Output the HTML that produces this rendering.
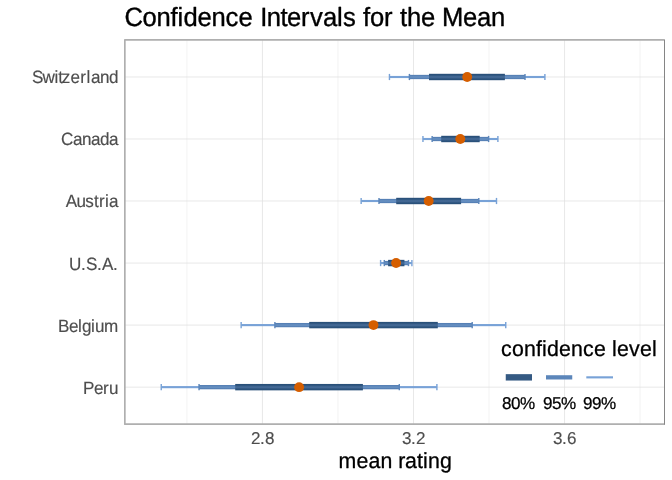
<!DOCTYPE html>
<html lang="en"><head><meta charset="utf-8"><title>Confidence Intervals for the Mean</title>
<style>html,body{margin:0;padding:0;background:#fff}body{width:672px;height:480px;overflow:hidden}svg{display:block}text{text-rendering:geometricPrecision;paint-order:stroke;stroke-linejoin:round;font-family:"Liberation Sans",Arial,Helvetica,sans-serif}</style>
</head><body>
<svg width="672" height="480" viewBox="0 0 672 480">
<rect width="672" height="480" fill="#fff"/>
<g stroke="#dedede" fill="none">
<line x1="186.93" y1="39.9" x2="186.93" y2="424.2" stroke-width="0.36"/>
<line x1="262.45" y1="39.9" x2="262.45" y2="424.2" stroke-width="0.71"/>
<line x1="337.97" y1="39.9" x2="337.97" y2="424.2" stroke-width="0.36"/>
<line x1="413.5" y1="39.9" x2="413.5" y2="424.2" stroke-width="0.71"/>
<line x1="489.02" y1="39.9" x2="489.02" y2="424.2" stroke-width="0.36"/>
<line x1="564.54" y1="39.9" x2="564.54" y2="424.2" stroke-width="0.71"/>
<line x1="640.06" y1="39.9" x2="640.06" y2="424.2" stroke-width="0.36"/>
<line x1="124.67" y1="77.00" x2="664.67" y2="77.00" stroke-width="0.71"/>
<line x1="124.67" y1="139.00" x2="664.67" y2="139.00" stroke-width="0.71"/>
<line x1="124.67" y1="201.00" x2="664.67" y2="201.00" stroke-width="0.71"/>
<line x1="124.67" y1="263.05" x2="664.67" y2="263.05" stroke-width="0.71"/>
<line x1="124.67" y1="325.10" x2="664.67" y2="325.10" stroke-width="0.71"/>
<line x1="124.67" y1="387.15" x2="664.67" y2="387.15" stroke-width="0.71"/>
</g>
<defs>
<linearGradient id="g80" x1="0" y1="0" x2="0" y2="1"><stop offset="0" stop-color="#264d76"/><stop offset="0.22" stop-color="#2e557f"/><stop offset="0.5" stop-color="#486d9a"/><stop offset="0.78" stop-color="#2e557f"/><stop offset="1" stop-color="#264d76"/></linearGradient>
<linearGradient id="g95" x1="0" y1="0" x2="0" y2="1"><stop offset="0" stop-color="#547fb4"/><stop offset="0.2" stop-color="#5781b6"/><stop offset="0.5" stop-color="#6b94c4"/><stop offset="0.8" stop-color="#5781b6"/><stop offset="1" stop-color="#547fb4"/></linearGradient>
</defs>
<g>
<rect x="389.45" y="75.94" width="155.45" height="2.13" fill="#78a2d7"/>
<rect x="409.4" y="74.86" width="115.60" height="4.27" fill="url(#g95)"/>
<rect x="429.0" y="73.80" width="75.90" height="6.4" fill="url(#g80)"/>
<line x1="389.45" y1="73.90" x2="389.45" y2="80.10" stroke="#78a2d7" stroke-width="1.42"/>
<line x1="544.9" y1="73.90" x2="544.9" y2="80.10" stroke="#78a2d7" stroke-width="1.42"/>
<line x1="409.4" y1="73.90" x2="409.4" y2="80.10" stroke="#5c86ba" stroke-width="1.42"/>
<line x1="525.0" y1="73.90" x2="525.0" y2="80.10" stroke="#5c86ba" stroke-width="1.42"/>
</g>
<circle cx="467.2" cy="77.0" r="4.95" fill="#d55e00"/>
<g>
<rect x="422.95" y="137.94" width="74.95" height="2.13" fill="#78a2d7"/>
<rect x="432.15" y="136.87" width="56.45" height="4.27" fill="url(#g95)"/>
<rect x="441.2" y="135.80" width="38.50" height="6.4" fill="url(#g80)"/>
<line x1="422.95" y1="135.90" x2="422.95" y2="142.10" stroke="#78a2d7" stroke-width="1.42"/>
<line x1="497.9" y1="135.90" x2="497.9" y2="142.10" stroke="#78a2d7" stroke-width="1.42"/>
<line x1="432.15" y1="135.90" x2="432.15" y2="142.10" stroke="#5c86ba" stroke-width="1.42"/>
<line x1="488.6" y1="135.90" x2="488.6" y2="142.10" stroke="#5c86ba" stroke-width="1.42"/>
</g>
<circle cx="460.3" cy="139.0" r="4.95" fill="#d55e00"/>
<g>
<rect x="361.15" y="199.94" width="135.35" height="2.13" fill="#78a2d7"/>
<rect x="379.0" y="198.87" width="99.80" height="4.27" fill="url(#g95)"/>
<rect x="396.2" y="197.80" width="64.90" height="6.4" fill="url(#g80)"/>
<line x1="361.15" y1="197.90" x2="361.15" y2="204.10" stroke="#78a2d7" stroke-width="1.42"/>
<line x1="496.5" y1="197.90" x2="496.5" y2="204.10" stroke="#78a2d7" stroke-width="1.42"/>
<line x1="379.0" y1="197.90" x2="379.0" y2="204.10" stroke="#5c86ba" stroke-width="1.42"/>
<line x1="478.8" y1="197.90" x2="478.8" y2="204.10" stroke="#5c86ba" stroke-width="1.42"/>
</g>
<circle cx="428.7" cy="201.0" r="4.95" fill="#d55e00"/>
<g>
<rect x="380.6" y="261.99" width="31.30" height="2.13" fill="#78a2d7"/>
<rect x="384.3" y="260.92" width="24.15" height="4.27" fill="url(#g95)"/>
<rect x="388.1" y="259.85" width="16.35" height="6.4" fill="url(#g80)"/>
<line x1="380.6" y1="259.95" x2="380.6" y2="266.15" stroke="#78a2d7" stroke-width="1.42"/>
<line x1="411.9" y1="259.95" x2="411.9" y2="266.15" stroke="#78a2d7" stroke-width="1.42"/>
<line x1="384.3" y1="259.95" x2="384.3" y2="266.15" stroke="#5c86ba" stroke-width="1.42"/>
<line x1="408.45" y1="259.95" x2="408.45" y2="266.15" stroke="#5c86ba" stroke-width="1.42"/>
</g>
<circle cx="396.1" cy="263.05" r="4.95" fill="#d55e00"/>
<g>
<rect x="241.15" y="324.04" width="264.60" height="2.13" fill="#78a2d7"/>
<rect x="274.9" y="322.97" width="197.30" height="4.27" fill="url(#g95)"/>
<rect x="309.2" y="321.90" width="128.60" height="6.4" fill="url(#g80)"/>
<line x1="241.15" y1="322.00" x2="241.15" y2="328.20" stroke="#78a2d7" stroke-width="1.42"/>
<line x1="505.75" y1="322.00" x2="505.75" y2="328.20" stroke="#78a2d7" stroke-width="1.42"/>
<line x1="274.9" y1="322.00" x2="274.9" y2="328.20" stroke="#5c86ba" stroke-width="1.42"/>
<line x1="472.2" y1="322.00" x2="472.2" y2="328.20" stroke="#5c86ba" stroke-width="1.42"/>
</g>
<circle cx="373.5" cy="325.1" r="4.95" fill="#d55e00"/>
<g>
<rect x="161.25" y="386.08" width="275.65" height="2.13" fill="#78a2d7"/>
<rect x="199.05" y="385.01" width="200.25" height="4.27" fill="url(#g95)"/>
<rect x="235.2" y="383.95" width="127.70" height="6.4" fill="url(#g80)"/>
<line x1="161.25" y1="384.05" x2="161.25" y2="390.25" stroke="#78a2d7" stroke-width="1.42"/>
<line x1="436.9" y1="384.05" x2="436.9" y2="390.25" stroke="#78a2d7" stroke-width="1.42"/>
<line x1="199.05" y1="384.05" x2="199.05" y2="390.25" stroke="#5c86ba" stroke-width="1.42"/>
<line x1="399.3" y1="384.05" x2="399.3" y2="390.25" stroke="#5c86ba" stroke-width="1.42"/>
</g>
<circle cx="299.1" cy="387.15" r="4.95" fill="#d55e00"/>
<path d="M664.9 39.85 L124.84 39.85 L124.84 424.18 L664.9 424.18" fill="none" stroke="#afafaf" stroke-width="1.68" stroke-linejoin="round"/>
<line x1="664.5" y1="40" x2="664.5" y2="424.6" stroke="#858585" stroke-width="1"/>
<text transform="translate(0,26) scale(1,1.03)" x="124.6 142.6 156.6 170.6 177.6 183.6 197.6 211.6 225.6 238.6 252 260.2 266.7 280.4 287 301 310 323 337 343 356 363 370 384 393 400 407 421 435 442 463 477 491" y="0" font-size="25.6" fill="#000" stroke="#000" stroke-width="0.35">Confidence Intervals for the Mean</text>
<g font-size="17.07" fill="#4d4d4d" stroke="#4d4d4d" stroke-width="0.15">
<text transform="translate(0,83.0) scale(1,1.04)" x="31.9 42.6 54.6 58.3 61.8 70.5 80.3 86.55 91 100 109" y="0">Switzerland</text>
<text transform="translate(0,144.9) scale(1,1.04)" x="61 73 82 91 100 109" y="0">Canada</text>
<text transform="translate(0,207.3) scale(1,1.04)" x="65.8 76.6 85.3 94 99 105 109" y="0">Austria</text>
<text transform="translate(0,269.55) scale(1,1.04)" x="69 81 86 97 102 113" y="0">U.S.A.</text>
<text transform="translate(0,331.55) scale(1,1.04)" x="58 69 78 82 91 95 104" y="0">Belgium</text>
<text transform="translate(0,393.55) scale(1,1.04)" x="83 94 103 109" y="0">Peru</text>
</g>
<g font-size="17.07" fill="#4d4d4d" stroke="#4d4d4d" stroke-width="0.15">
<text x="251 260 265" y="444">2.8</text>
<text x="402 411 416" y="444">3.2</text>
<text x="553 562 567" y="444">3.6</text>
</g>
<text transform="translate(0,467.5) scale(1,1.02)" x="338.5 356.5 368.5 380.5 392 398.3 405 417 423 428 440" y="0" font-size="21.33" fill="#000" stroke="#000" stroke-width="0.3">mean rating</text>
<text transform="translate(0,355.8) scale(1,1.02)" x="501 512 524 536 542 547 559 571 583 594 606 612 617 629 640 652" y="0" font-size="21.33" fill="#000" stroke="#000" stroke-width="0.3">confidence level</text>
<line x1="505.75" y1="377.35" x2="532.0" y2="377.35" stroke="#355a83" stroke-width="6.4"/>
<line x1="546.0" y1="377.35" x2="572.25" y2="377.35" stroke="#5c86ba" stroke-width="4.27"/>
<line x1="586.3" y1="377.35" x2="613.0" y2="377.35" stroke="#78a2d7" stroke-width="2.13"/>
<g font-size="17.07" fill="#000" stroke="#000" stroke-width="0.25">
<text x="502 511 520" y="408.6">80%</text>
<text x="543 552 561" y="408.6">95%</text>
<text x="583 592 601" y="408.6">99%</text>
</g>
</svg></body></html>
